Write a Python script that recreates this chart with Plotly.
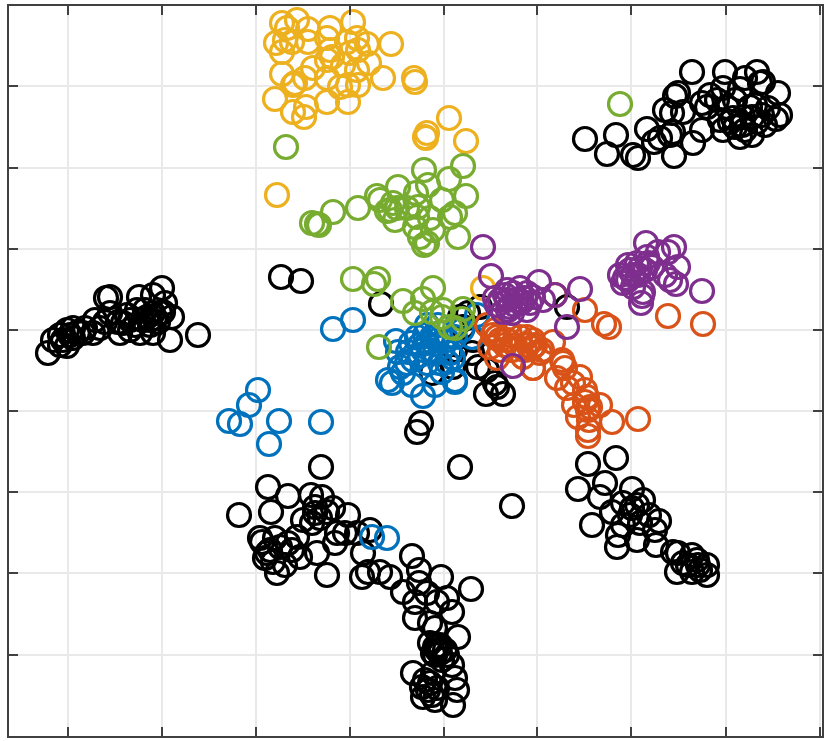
"""Open-circle scatter of point clusters, black background points plus five coloured groups.

The reference has no axis labels, so values are kept in reference pixel units.
"""
import plotly.graph_objects as go

black_x = [692, 725, 757, 745, 763, 760, 778, 723, 710, 740, 678, 675, 665, 672, 683, 702, 717, 647, 673, 670,
           660, 654, 702, 693, 674, 616, 585, 607, 633, 638, 723, 733, 740, 752, 735, 752, 776, 780, 762, 743,
           730, 750, 707, 742, 757, 727, 720, 765, 755, 735, 768, 745,
           48, 53, 67, 67, 60, 63, 73, 83, 93, 95, 105, 106, 110, 110, 120, 127, 130, 139, 137, 140,
           153, 153, 162, 165, 160, 172, 170, 198, 153, 147, 163, 158, 123, 100, 73,
           130, 143, 150, 155, 145, 135, 118, 85, 78, 70, 60, 150,
           321, 268, 288, 239, 271, 311, 322, 260, 262, 275, 267, 265, 273, 277, 285, 300, 288, 297, 303, 315,
           320, 327, 333, 315, 348, 337, 335, 345, 357, 370, 363, 317, 327, 362, 368, 380, 390, 312, 280, 292, 270,
           421, 417, 460, 512, 281, 301,
           412, 419, 441, 471, 403, 419, 415, 427, 447, 452, 415, 430, 458, 435, 438, 440, 433, 447, 452, 413,
           455, 457, 453, 435, 423, 422, 430, 433, 442, 430, 435, 437, 425, 437, 435, 440, 437, 445, 428, 432,
           616, 588, 578, 605, 600, 632, 643, 623, 612, 632, 637, 592, 659, 649, 630, 623, 618, 617, 637, 655,
           656, 640, 673, 678, 677, 692, 688, 697, 707, 700, 707, 692, 683, 698,
           381, 480, 567, 460, 468, 463, 473, 472, 478, 487, 486, 497, 503, 495, 453, 432, 455]
black_y = [72, 72, 72, 78, 82, 83, 93, 88, 95, 89, 93, 96, 110, 113, 112, 103, 100, 129, 132, 135,
           138, 142, 130, 143, 156, 135, 139, 154, 155, 158, 130, 118, 137, 135, 127, 117, 119, 115, 115, 117,
           122, 107, 107, 125, 122, 107, 120, 125, 105, 100, 108, 130,
           353, 340, 346, 330, 335, 340, 338, 333, 333, 320, 322, 298, 297, 313, 333, 315, 330, 297, 310, 333,
           333, 295, 288, 303, 313, 317, 340, 335, 313, 317, 312, 322, 323, 328, 328,
           320, 320, 320, 318, 310, 325, 322, 328, 332, 335, 345, 325,
           467, 487, 496, 515, 512, 495, 497, 538, 542, 538, 553, 558, 562, 573, 565, 557, 543, 537, 520, 513,
           518, 512, 508, 507, 515, 533, 543, 533, 533, 530, 553, 553, 575, 577, 572, 572, 577, 523, 547, 550, 550,
           423, 432, 467, 506, 277, 281,
           556, 570, 577, 589, 592, 583, 602, 593, 598, 612, 618, 623, 637, 647, 647, 653, 653, 655, 665, 673,
           678, 690, 705, 700, 697, 687, 683, 673, 660, 643, 628, 688, 680, 602, 655, 645, 650, 650, 690, 695,
           458, 464, 489, 483, 497, 489, 500, 503, 512, 508, 505, 525, 521, 515, 515, 525, 535, 547, 540, 530,
           545, 523, 552, 553, 572, 555, 565, 560, 565, 570, 575, 572, 563, 565,
           304, 307, 307, 317, 313, 327, 340, 353, 367, 370, 394, 387, 394, 383, 367, 373, 350]

blue_x = [258, 249, 229, 240, 279, 321, 269, 333, 353, 372, 387,
          396, 398, 411, 427, 432, 440, 447, 455, 477, 472, 423, 435, 443, 453, 413, 400, 388, 392, 403,
          412, 423, 435, 455, 455, 427, 440, 420, 427, 417, 407, 450, 437, 430, 447,
          425, 438, 420, 442, 462, 408]
blue_y = [390, 405, 421, 424, 421, 422, 444, 329, 320, 537, 538,
          341, 352, 343, 325, 337, 333, 340, 337, 315, 337, 350, 353, 347, 358, 360, 367, 380, 383, 373,
          385, 396, 385, 380, 382, 363, 363, 345, 343, 337, 363, 353, 340, 350, 362,
          335, 325, 355, 372, 330, 352]

orange_x = [487, 490, 497, 507, 520, 528, 497, 512, 523, 533, 542, 553, 555, 585, 604, 609, 668, 703, 533, 532,
            540, 533, 562, 557, 565, 567, 580, 585, 574, 587, 600, 578, 588, 589, 612, 638, 588, 588, 590, 573,
            563, 585, 500, 527, 495, 505, 515, 525, 535, 510, 500, 493]
orange_y = [325, 347, 337, 340, 337, 345, 358, 350, 357, 368, 350, 342, 295, 310, 324, 327, 316, 324, 340, 348,
            353, 368, 360, 378, 368, 388, 377, 390, 405, 397, 405, 417, 410, 420, 422, 419, 430, 436, 407, 383,
            363, 402, 350, 337, 330, 345, 345, 350, 345, 335, 340, 335]

yellow_x = [282, 297, 287, 308, 330, 353, 327, 276, 285, 292, 308, 282, 347, 357, 367, 391, 358, 330, 327, 332,
            350, 369, 313, 282, 357, 343, 305, 295, 293, 327, 383, 414, 415, 340, 358, 348, 275, 293, 306, 304,
            327, 348, 449, 427, 425, 426, 466, 277, 483]
yellow_y = [23, 20, 28, 29, 28, 22, 38, 43, 40, 42, 42, 52, 42, 38, 44, 44, 50, 50, 60, 57,
            53, 63, 68, 74, 70, 65, 78, 83, 85, 78, 78, 78, 82, 87, 85, 85, 99, 112, 107, 117,
            102, 102, 118, 133, 137, 138, 141, 195, 288]

purple_x = [483, 491, 507, 500, 513, 510, 527, 539, 543, 527, 517, 503, 512, 497, 520, 533, 555, 580, 567, 513,
            507, 515, 522, 505, 520, 525, 508, 530, 495,
            646, 674, 668, 658, 647, 678, 620, 628, 637, 645, 625, 633, 623, 633, 643, 642, 641, 665, 670, 676,
            702, 640, 630, 652, 638, 628, 648]
purple_y = [247, 276, 290, 300, 293, 307, 293, 282, 300, 310, 300, 312, 313, 305, 288, 297, 295, 289, 327, 366,
            300, 305, 302, 295, 302, 298, 310, 303, 298,
            243, 247, 252, 252, 257, 267, 275, 265, 263, 270, 278, 275, 283, 287, 292, 296, 303, 275, 280, 284,
            291, 268, 270, 267, 275, 280, 263]

green_x = [286, 620, 424, 463, 449, 428, 398, 377, 416, 380, 466, 442, 358, 393, 390, 397, 387, 418, 407, 455,
           395, 333, 312, 317, 319, 417, 430, 450, 415, 433, 458, 420, 427, 424,
           353, 378, 374, 403, 433, 423, 415, 432, 443, 442, 463, 462, 450, 455, 379]
green_y = [147, 104, 170, 166, 179, 185, 187, 196, 193, 200, 196, 200, 208, 203, 210, 208, 211, 207, 208, 213,
           220, 212, 223, 224, 225, 217, 218, 217, 227, 230, 237, 237, 243, 245,
           279, 279, 284, 301, 288, 299, 313, 312, 310, 317, 309, 319, 327, 328, 347]

# draw order matters, later groups sit on top
groups = [
    ("black", black_x, black_y, "#000000"),
    ("blue", blue_x, blue_y, "#0072BD"),
    ("orange", orange_x, orange_y, "#D95319"),
    ("yellow", yellow_x, yellow_y, "#EDB120"),
    ("purple", purple_x, purple_y, "#7E2F8E"),
    ("green", green_x, green_y, "#77AC30"),
]

x_ticks = [68, 162, 256, 350, 444, 537, 631, 726, 820]
y_ticks = [86, 168, 249, 330, 411, 492, 573, 655]

fig = go.Figure()
for name, xs, ys, color in groups:
    fig.add_trace(go.Scatter(
        x=xs, y=ys,
        name=name,
        mode="markers",
        marker=dict(symbol="circle-open", size=23, color=color, line=dict(width=3.2, color=color)),
    ))

axis_style = dict(
    showticklabels=False,
    ticks="inside",
    ticklen=9,
    tickwidth=1.5,
    tickcolor="#404040",
    mirror="allticks",
    showline=True,
    linecolor="#404040",
    linewidth=1.5,
    showgrid=True,
    gridcolor="#e9e9e9",
    gridwidth=1.6,
    zeroline=False,
)

fig.update_xaxes(range=[9, 822], tickvals=x_ticks, **axis_style)
fig.update_yaxes(range=[736, 6], tickvals=y_ticks, **axis_style)
fig.update_layout(
    width=831,
    height=741,
    showlegend=False,
    plot_bgcolor="white",
    paper_bgcolor="white",
    margin=dict(l=9, r=9, t=6, b=5),
)

fig.write_html(
    "out.html",
    config={"displayModeBar": False},
    post_script="document.body.style.margin='0';document.body.style.overflow='hidden';",
)
